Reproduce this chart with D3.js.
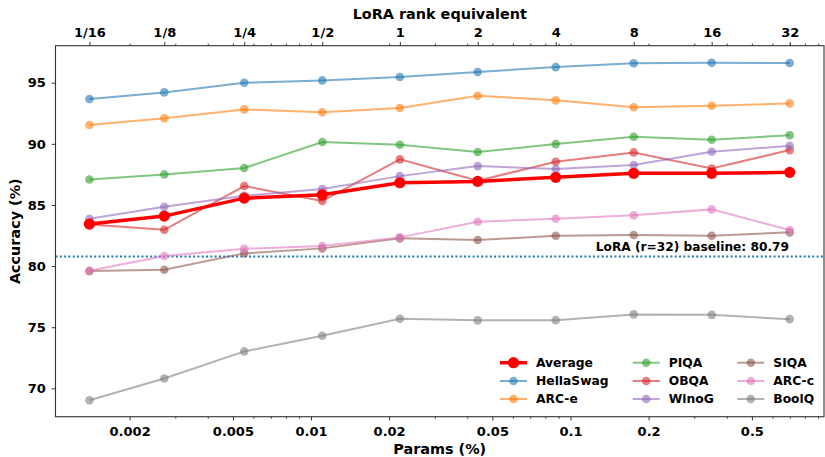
<!DOCTYPE html>
<html>
<head>
<meta charset="utf-8">
<script src="https://cdn.jsdelivr.net/npm/d3@7"></script>
<style>
body { margin: 0; background: #fff; }
text { font-family: "DejaVu Sans", sans-serif; font-weight: bold; }
</style>
</head>
<body>
<svg id="chart" width="825" height="457"></svg>
<script>
// params (%) for each rank step
var params = [0.0014, 0.00272, 0.00553, 0.01105, 0.022, 0.0439, 0.0877, 0.1752, 0.35, 0.6995]
var rankLabels = ['1/16', '1/8', '1/4', '1/2', '1', '2', '4', '8', '16', '32']
var xTicks = [0.002, 0.005, 0.01, 0.02, 0.05, 0.1, 0.2, 0.5]
var yTicks = [70, 75, 80, 85, 90, 95]
var baseline = 80.79

var names = ['HellaSwag', 'ARC-e', 'PIQA', 'OBQA', 'WinoG', 'SIQA', 'ARC-c', 'BoolQ']
var colors = ['#1f77b4', '#ff7f0e', '#2ca02c', '#d62728', '#9467bd', '#8c564b', '#e377c2', '#7f7f7f']

var hellaswag = [93.67, 94.21, 95.0, 95.19, 95.47, 95.88, 96.28, 96.59, 96.64, 96.61]
var arce = [91.54, 92.09, 92.82, 92.58, 92.93, 93.94, 93.56, 92.99, 93.12, 93.31]
var piqa = [87.09, 87.5, 88.02, 90.15, 89.93, 89.33, 89.98, 90.58, 90.34, 90.7]
var obqa = [83.4, 82.97, 86.55, 85.32, 88.73, 86.98, 88.54, 89.3, 87.99, 89.49]
var winog = [83.87, 84.85, 85.75, 86.3, 87.36, 88.18, 87.94, 88.27, 89.35, 89.84]
var siqa = [79.59, 79.7, 81.04, 81.45, 82.27, 82.13, 82.48, 82.54, 82.48, 82.76]
var arcc = [79.62, 80.82, 81.42, 81.64, 82.35, 83.63, 83.87, 84.15, 84.64, 82.95]
var boolq = [69.03, 70.81, 73.02, 74.3, 75.69, 75.56, 75.58, 76.05, 76.01, 75.66]
var average = [83.44, 84.09, 85.56, 85.83, 86.82, 86.93, 87.26, 87.59, 87.59, 87.67]

var tasks = [hellaswag, arce, piqa, obqa, winog, siqa, arcc, boolq]

var svg = d3.select('#chart')
var pl = 55.5, pr = 824, pt = 45.7, pb = 416.7

var x = d3.scaleLog().domain([0.001036, 0.9482]).range([pl, pr])
var y = d3.scaleLinear().domain([67.68, 98.03]).range([pb, pt])

// minor log ticks
var minors = []
for (var e = -3; e <= -1; e++) {
    for (var m = 1; m <= 9; m++) {
        var v = m * Math.pow(10, e)
        if (v > x.domain()[0] && v < x.domain()[1]) minors.push(v)
    }
}
var bottomMinors = minors.filter(v => xTicks.indexOf(+v.toPrecision(3)) < 0)

var line = d3.line().x((d, i) => x(params[i])).y(d => y(d))

// baseline
svg.append('line')
    .attr('x1', pl).attr('x2', pr)
    .attr('y1', y(baseline)).attr('y2', y(baseline))
    .attr('stroke', '#1f77b4').attr('stroke-width', 2)
    .attr('stroke-dasharray', '2,2.3')
svg.append('text')
    .attr('x', 789).attr('y', y(baseline) - 5)
    .attr('text-anchor', 'end').attr('font-size', 12.2)
    .text('LoRA (r=32) baseline: ' + baseline)

// task series
tasks.forEach(function (vals, k) {
    var g = svg.append('g')
    g.append('path').datum(vals)
        .attr('d', line).attr('fill', 'none')
        .attr('stroke', colors[k]).attr('stroke-width', 2)
        .attr('stroke-opacity', 0.6)
    g.selectAll('circle').data(vals).enter().append('circle')
        .attr('cx', (d, i) => x(params[i])).attr('cy', d => y(d))
        .attr('r', 4.3).attr('fill', colors[k]).attr('fill-opacity', 0.6)
})

// average
svg.append('path').datum(average)
    .attr('d', line).attr('fill', 'none')
    .attr('stroke', '#ff0000').attr('stroke-width', 3.5)
svg.append('g').selectAll('circle').data(average).enter().append('circle')
    .attr('cx', (d, i) => x(params[i])).attr('cy', d => y(d))
    .attr('r', 5.6).attr('fill', '#ff0000')

// axes
function style(g, size) {
    g.select('.domain').remove()
    g.selectAll('line').attr('stroke', '#333').attr('stroke-width', 1)
    g.selectAll('text').attr('fill', '#000').attr('font-size', size)
        .style('font-family', '"DejaVu Sans", sans-serif').style('font-weight', 'bold')
}
var xb = svg.append('g').attr('transform', 'translate(0,' + pb + ')')
    .call(d3.axisBottom(x).tickValues(xTicks).tickFormat(d3.format('')).tickSize(3.7).tickPadding(6))
style(xb, 13)
var xbm = svg.append('g').attr('transform', 'translate(0,' + pb + ')')
    .call(d3.axisBottom(x).tickValues(bottomMinors).tickFormat('').tickSize(2))
style(xbm, 13)

var xt = svg.append('g').attr('transform', 'translate(0,' + pt + ')')
    .call(d3.axisTop(x).tickValues(params).tickFormat((d, i) => rankLabels[i]).tickSize(3.7).tickPadding(5))
style(xt, 13)
var xtm = svg.append('g').attr('transform', 'translate(0,' + pt + ')')
    .call(d3.axisTop(x).tickValues(minors).tickFormat('').tickSize(2))
style(xtm, 13)

var yl = svg.append('g').attr('transform', 'translate(' + pl + ',0)')
    .call(d3.axisLeft(y).tickValues(yTicks).tickSize(3.7).tickPadding(6))
style(yl, 13)

svg.append('rect')
    .attr('x', pl).attr('y', pt)
    .attr('width', pr - pl).attr('height', pb - pt)
    .attr('fill', 'none').attr('stroke', '#333').attr('stroke-width', 1.1)

// labels
svg.append('text').attr('x', (pl + pr) / 2).attr('y', 454)
    .attr('text-anchor', 'middle').attr('font-size', 14.4).text('Params (%)')
svg.append('text').attr('x', (pl + pr) / 2).attr('y', 18.5)
    .attr('text-anchor', 'middle').attr('font-size', 14.4).text('LoRA rank equivalent')
svg.append('text')
    .attr('transform', 'translate(20,' + ((pt + pb) / 2) + ') rotate(-90)')
    .attr('text-anchor', 'middle').attr('font-size', 14.4).text('Accuracy (%)')

// legend
var legNames = ['Average'].concat(names)
var legColors = ['#ff0000'].concat(colors)
var colX = [500, 632.7, 737.3]
var rowY = [362.7, 381, 399]
legNames.forEach(function (n, i) {
    var cx = colX[Math.floor(i / 3)], cy = rowY[i % 3]
    var g = svg.append('g').attr('transform', 'translate(' + cx + ',' + cy + ')')
    var avg = i === 0
    g.append('line').attr('x1', 0).attr('x2', 27).attr('y1', 0).attr('y2', 0)
        .attr('stroke', legColors[i]).attr('stroke-width', avg ? 3.5 : 2)
        .attr('stroke-opacity', avg ? 1 : 0.6)
    g.append('circle').attr('cx', 13.5).attr('cy', 0).attr('r', avg ? 5.6 : 4.3)
        .attr('fill', legColors[i]).attr('fill-opacity', avg ? 1 : 0.6)
    g.append('text').attr('x', 36).attr('y', 4.4).attr('font-size', 12.3).text(n)
})
</script>
</body>
</html>
